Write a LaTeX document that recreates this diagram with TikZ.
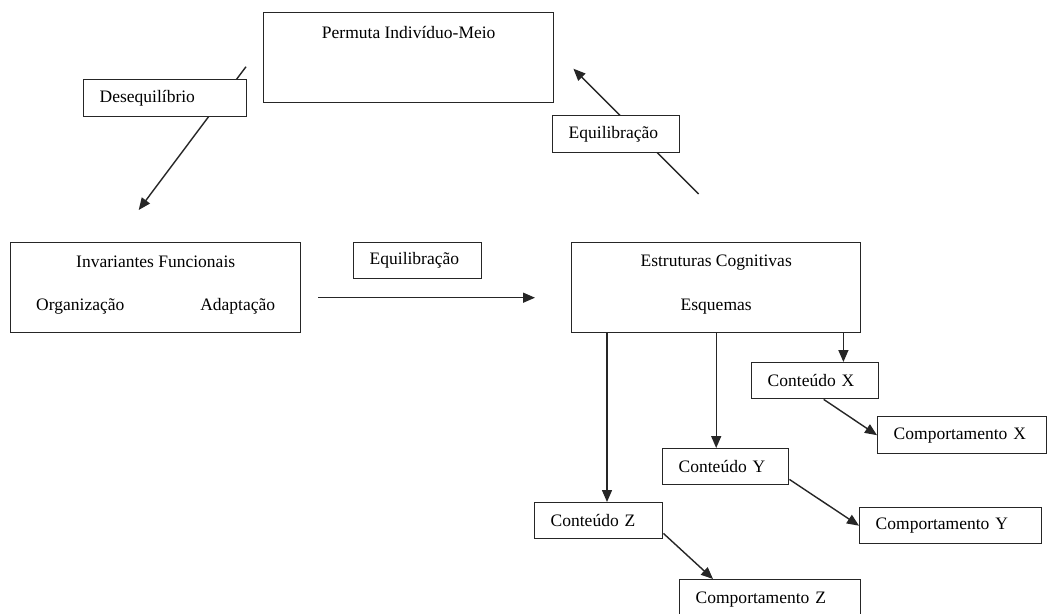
\documentclass[tikz,border=0pt]{standalone}
\usepackage{fontspec}
\setmainfont{Liberation Serif}
\usepackage{tikz}
\usetikzlibrary{arrows.meta}

\begin{document}
\begin{tikzpicture}[x=1pt, y=-1pt,
  every node/.style={font=\fontsize{17.5}{21}\selectfont},
  bigbox/.style={draw=black!85, line width=1.4pt, fill=white, inner sep=0pt, anchor=north west, align=center},
  smallbox/.style={draw=black!85, line width=1.4pt, fill=white, inner ysep=0pt, inner xsep=16pt, anchor=north west, align=left, minimum height=36pt},
  arr/.style={-{Triangle[length=12pt, width=10pt]}, line width=1.4pt, black!85}]
  \path[use as bounding box, fill=white] (0,0) rectangle (1056,613);

  % Main boxes
  \node[bigbox, minimum width=290pt, text height=26pt, text depth=64pt] (permuta) at (263,12) {Permuta Indivíduo-Meio};
  \node[bigbox, minimum width=290pt, minimum height=90pt, text depth=9pt] (invar) at (10,242)
    {Invariantes Funcionais\\[22pt]Organização\hspace{76pt}Adaptação};
  \node[bigbox, minimum width=289pt, minimum height=90pt, text depth=9pt] (est) at (571,242)
    {Estruturas Cognitivas\\[23pt]Esquemas};
  \node[smallbox, text width=96pt] (eqmid) at (353,242) {Equilibração};

  % Contents and behaviours
  \node[smallbox, text width=95pt]  (contX) at (751,362) {Conteúdo X};
  \node[smallbox, text width=94pt]  (contY) at (662,448) {Conteúdo Y};
  \node[smallbox, text width=96pt]  (contZ) at (534,502) {Conteúdo Z};
  \node[smallbox, text width=137pt, minimum height=37pt] (compX) at (877,416) {Comportamento X};
  \node[smallbox, text width=150pt] (compY) at (859,507) {Comportamento Y};
  \node[smallbox, text width=149pt, minimum height=40pt] (compZ) at (679,579) {Comportamento Z};

  % Cycle arrows
  \draw[arr] ([xshift=-17pt, yshift=-9pt]permuta.west) -- ([xshift=-17pt, yshift=32pt]invar.north);
  \draw[arr] ([xshift=-17.5pt, yshift=48pt]est.north) -- ([xshift=19pt, yshift=-11pt]permuta.east);
  \draw[arr] ([xshift=17pt, yshift=-10pt]invar.east) -- ([xshift=-36pt, yshift=-10pt]est.west);

  % Schemes to contents
  \draw[arr] ([xshift=-18pt]est.south east) -- ([xshift=-18pt]est.south east |- contX.north);
  \draw[arr] (est.south) -- (est.south |- contY.north);
  \draw[arr] ([xshift=36pt]est.south west) -- ([xshift=36pt]est.south west |- contZ.north);

  % Contents to behaviours
  \draw[arr] ([xshift=8.5pt]contX.south) -- (compX.west);
  \draw[arr] ([yshift=6pt]contY.south east) -- (compY.west);
  \draw[arr] ([yshift=6pt]contZ.south east) -- ([xshift=34pt]compZ.north west);

  % Labels on the cycle arrows
  \node[smallbox, text width=131pt, minimum height=37pt] (desq) at (83,79) {Desequilíbrio};
  \node[smallbox, text width=95pt, minimum height=37pt] (eqtop) at (552,115) {Equilibração};
\end{tikzpicture}
\end{document}
